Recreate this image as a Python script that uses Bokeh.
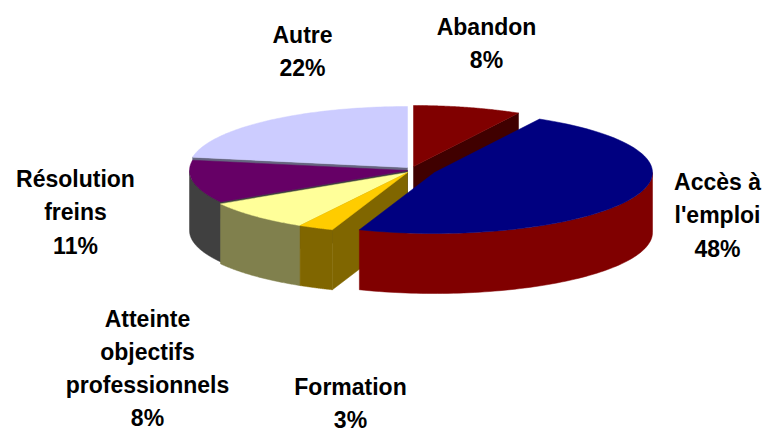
import numpy as np
from bokeh.plotting import figure
from bokeh.models import Range1d, ColumnDataSource
from bokeh.core.properties import value
from bokeh.embed import file_html
from bokeh.resources import INLINE

categories = ["Abandon", "Accès à l'emploi", "Formation", "Atteinte objectifs professionnels", "Résolution freins", "Autre"]
values = [8.0, 47.6, 2.6, 8.2, 11.3, 22.3]
label_text = ["Abandon\n8%", "Accès à\nl'emploi\n48%", "Formation\n3%", "Atteinte\nobjectifs\nprofessionnels\n8%", "Résolution\nfreins\n11%", "Autre\n22%"]
top_colors = ["#800000", "#000080", "#FFCC00", "#FFFF99", "#660066", "#CCCCFF"]
wall_colors = ["#400000", "#800000", "#806600", "#80804D", "#404040", "#666680"]
centers_x = [413, 434, 407, 407, 407, 407]
centers_y = [166, 172, 172, 172, 170, 167]
label_x = [486, 717, 350, 147, 75, 302]
label_y = [43, 215, 403, 368, 212, 51]
RX, RY, DEPTH = 218, 61, 60

fracs = np.array(values) / sum(values)
ends = np.cumsum(fracs) * 2 * np.pi
starts = ends - fracs * 2 * np.pi

p = figure(width=763, height=428, output_backend="svg", toolbar_location=None,
           x_range=Range1d(0, 763), y_range=Range1d(428, 0), min_border=0)
p.axis.visible = False
p.grid.visible = False
p.outline_line_color = None
p.background_fill_color = "white"


def rim(cx, cy, a0, a1, n=80):
    a = np.linspace(a0, a1, n)
    return cx + RX * np.sin(a), cy - RY * np.cos(a)


def draw_wall(i):
    cx, cy = centers_x[i], centers_y[i]
    a0, a1 = max(starts[i], np.pi / 2), min(ends[i], 3 * np.pi / 2)
    if a1 > a0:
        x, y = rim(cx, cy, a0, a1)
        p.patch(np.r_[x, x[::-1]], np.r_[y, y[::-1] + DEPTH], fill_color=wall_colors[i], line_color=wall_colors[i], line_width=0.5)


def draw_cut(i, a):
    cx, cy = centers_x[i], centers_y[i]
    x, y = rim(cx, cy, a, a, 1)
    p.patch([cx, x[0], x[0], cx], [cy, y[0], y[0] + DEPTH, cy + DEPTH], fill_color=wall_colors[i], line_color=wall_colors[i], line_width=0.5)


def draw_top(i):
    cx, cy = centers_x[i], centers_y[i]
    x, y = rim(cx, cy, starts[i], ends[i])
    p.patch(np.r_[cx, x], np.r_[cy, y], fill_color=top_colors[i], line_color=top_colors[i], line_width=0.5)


# back to front
draw_cut(0, ends[0]); draw_top(0)
draw_cut(5, starts[5]); draw_top(5)
draw_wall(4); draw_cut(4, starts[4]); draw_top(4)
draw_wall(3); draw_top(3)
draw_wall(2); draw_cut(2, starts[2]); draw_top(2)
draw_wall(1); draw_top(1)

src = ColumnDataSource(dict(x=label_x, y=label_y, t=label_text))
p.text("x", "y", text="t", source=src, text_font=value("Liberation Sans"), text_font_style="bold",
       text_font_size="23px", text_align="center", text_baseline="middle", text_color="black", text_line_height=1.28)

open("out.html", "w").write(file_html(p, INLINE))
